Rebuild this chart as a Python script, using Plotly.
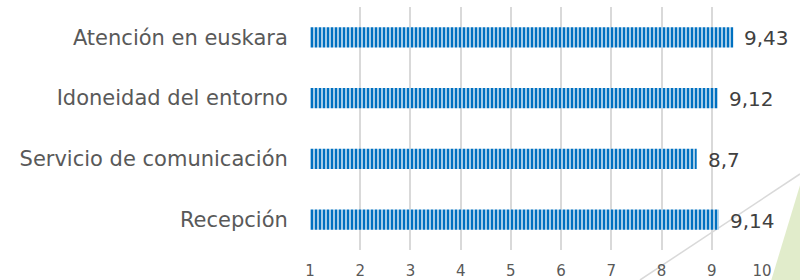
import plotly.graph_objects as go

categories = ["Atención en euskara", "Idoneidad del entorno", "Servicio de comunicación", "Recepción"]
values = [9.43, 9.12, 8.7, 9.14]
tick_values = [1, 2, 3, 4, 5, 6, 7, 8, 9, 10]

W, H = 800, 280
ML, MR, MT, MB = 310, 38, 7, 30
PW, PH = W - ML - MR, H - MT - MB

def px(x):
    return (x - ML) / PW

def py(y):
    return (H - MB - y) / PH

def fmt(v):
    s = ("%g" % v).replace(".", ",")
    return s

fig = go.Figure()
fig.add_trace(go.Bar(
    y=categories, x=values, orientation="h", width=0.33,
    marker=dict(color="#0070C0", line=dict(width=0),
                pattern=dict(shape="|", size=4, solidity=0.68,
                             fgcolor="#0070C0", bgcolor="white", fillmode="replace")),
    hoverinfo="skip",
))

for c, v in zip(categories, values):
    fig.add_annotation(x=v, y=c, text=fmt(v), showarrow=False, xanchor="left",
                       xshift=9, yshift=-1, font=dict(size=20, color="#404040"))

# decorative shapes bottom-right
fig.add_shape(type="path", xref="paper", yref="paper", layer="below",
              path=f"M {px(771)} {py(281)} L {px(801)} {py(182)} L {px(801)} {py(281)} Z",
              fillcolor="#E1ECCB", line=dict(width=0))
fig.add_shape(type="line", xref="paper", yref="paper", layer="below",
              x0=px(640), y0=py(280), x1=px(800), y1=py(174),
              line=dict(color="#D9D9D9", width=1.5))

fig.update_layout(
    width=W, height=H, margin=dict(l=ML, r=MR, t=MT, b=MB, autoexpand=False),
    paper_bgcolor="white", plot_bgcolor="white",
    font=dict(family="DejaVu Sans, Verdana, sans-serif", color="#595959"),
    showlegend=False, bargap=0.67,
    xaxis=dict(range=[1, 10], tickvals=tick_values, showgrid=True, gridcolor="#D9D9D9",
               gridwidth=2, zeroline=False, showline=False, ticks="outside", ticklen=7,
               tickcolor="rgba(0,0,0,0)", tickfont=dict(size=15, color="#595959"),
               automargin=False),
    yaxis=dict(autorange="reversed", showgrid=False, zeroline=False, showline=False,
               ticks="outside", ticklen=17, tickcolor="rgba(0,0,0,0)",
               tickfont=dict(size=21, color="#595959"), automargin=False),
)

fig.write_html("out.html", config={"displayModeBar": False},
               post_script="document.body.style.margin='0';document.body.style.padding='0';")
